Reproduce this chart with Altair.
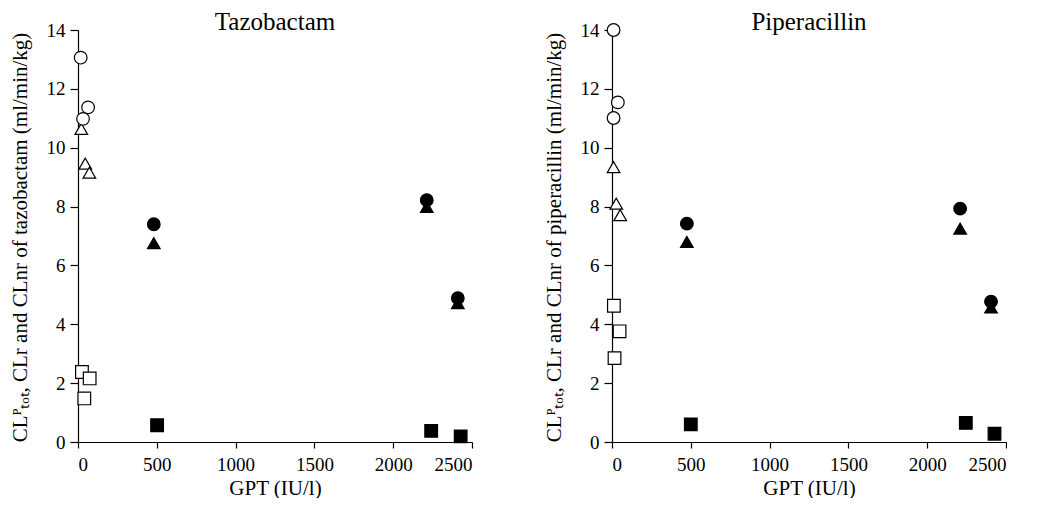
import altair as alt
import pandas as pd

# ---------------- data ----------------
drugs = ["Tazobactam", "Piperacillin"]

# Tazobactam
taz_tot_open_x = [17, 64, 32]
taz_tot_open_y = [13.06, 11.37, 10.98]
taz_nr_open_x = [21, 46, 72]
taz_nr_open_y = [10.64, 9.46, 9.15]
taz_r_open_x = [25, 74, 40]
taz_r_open_y = [2.38, 2.16, 1.48]
taz_tot_filled_x = [481, 2213, 2410]
taz_tot_filled_y = [7.40, 8.22, 4.89]
taz_nr_filled_x = [481, 2213, 2410]
taz_nr_filled_y = [6.76, 7.99, 4.72]
taz_r_filled_x = [502, 2241, 2428]
taz_r_filled_y = [0.57, 0.38, 0.19]

# Piperacillin
pip_tot_open_x = [10, 37, 10]
pip_tot_open_y = [14.0, 11.54, 11.01]
pip_nr_open_x = [10, 27, 52]
pip_nr_open_y = [9.34, 8.10, 7.71]
pip_r_open_x = [12, 48, 16]
pip_r_open_y = [4.63, 3.76, 2.85]
pip_tot_filled_x = [475, 2209, 2405]
pip_tot_filled_y = [7.42, 7.93, 4.77]
pip_nr_filled_x = [475, 2209, 2405]
pip_nr_filled_y = [6.80, 7.25, 4.57]
pip_r_filled_x = [500, 2245, 2427]
pip_r_filled_y = [0.60, 0.65, 0.28]

x_ticks = [0, 500, 1000, 1500, 2000, 2500]
y_ticks = [0, 2, 4, 6, 8, 10, 12, 14]

series_order = ["CLnr", "CLtot", "CLr"]
shape_range = ["triangle-up", "circle", "square"]
group_domain = ["open", "filled"]
fill_range = ["white", "black"]


def build(prefix_vals):
    rows = []
    for (series, group, xs, ys) in prefix_vals:
        for xv, yv in zip(xs, ys):
            rows.append({"series": series, "group": group, "gpt": xv, "cl": yv})
    return pd.DataFrame(rows)


taz_df = build([
    ("CLnr", "open", taz_nr_open_x, taz_nr_open_y),
    ("CLtot", "open", taz_tot_open_x, taz_tot_open_y),
    ("CLr", "open", taz_r_open_x, taz_r_open_y),
    ("CLnr", "filled", taz_nr_filled_x, taz_nr_filled_y),
    ("CLtot", "filled", taz_tot_filled_x, taz_tot_filled_y),
    ("CLr", "filled", taz_r_filled_x, taz_r_filled_y),
])
pip_df = build([
    ("CLnr", "open", pip_nr_open_x, pip_nr_open_y),
    ("CLtot", "open", pip_tot_open_x, pip_tot_open_y),
    ("CLr", "open", pip_r_open_x, pip_r_open_y),
    ("CLnr", "filled", pip_nr_filled_x, pip_nr_filled_y),
    ("CLtot", "filled", pip_tot_filled_x, pip_tot_filled_y),
    ("CLr", "filled", pip_r_filled_x, pip_r_filled_y),
])

FONT = "Liberation Serif"


def panel(df, title, drug_lower):
    ytitle = f"CL\u1d3e\u209c\u2092\u209c, CLr and CLnr of {drug_lower} (ml/min/kg)"
    return alt.Chart(df).mark_point(
        filled=True, size=160, stroke="black", strokeWidth=1.2, opacity=1
    ).encode(
        x=alt.X("gpt:Q", scale=alt.Scale(domain=[0, 2500], nice=False),
                axis=alt.Axis(values=x_ticks, format="d", title="GPT (IU/l)", tickSize=6,
                              labelPadding=7, titlePadding=3)),
        y=alt.Y("cl:Q", scale=alt.Scale(domain=[0, 14], nice=False),
                axis=alt.Axis(values=y_ticks, format="d", title=ytitle, tickSize=8,
                              labelPadding=5, titleX=-58, titleY=207,
                              titleBaseline="middle", titleAngle=270)),
        shape=alt.Shape("series:N", scale=alt.Scale(domain=series_order, range=shape_range), legend=None),
        fill=alt.Fill("group:N", scale=alt.Scale(domain=group_domain, range=fill_range), legend=None),
    ).properties(
        width=394, height=412,
        title=alt.TitleParams(title, font=FONT, fontSize=25, fontWeight="normal",
                              anchor="middle", color="black", offset=-14),
    )


left = panel(taz_df, "Tazobactam", "tazobactam")
right = panel(pip_df, "Piperacillin", "piperacillin")

chart = alt.hconcat(left, right, spacing=140, bounds="flush").properties(
    padding={"left": 0, "top": 2, "right": 0, "bottom": 0},
    background="white",
).configure_view(strokeWidth=0).configure_axis(
    grid=False, domainColor="black", domainWidth=1.2, tickColor="black", tickWidth=1.2,
    labelFont=FONT, labelFontSize=19, labelColor="black",
    titleFont=FONT, titleFontSize=21, titleFontWeight="normal", titleColor="black",
)

chart.save("out.html", embed_options={"renderer": "svg", "actions": False})
